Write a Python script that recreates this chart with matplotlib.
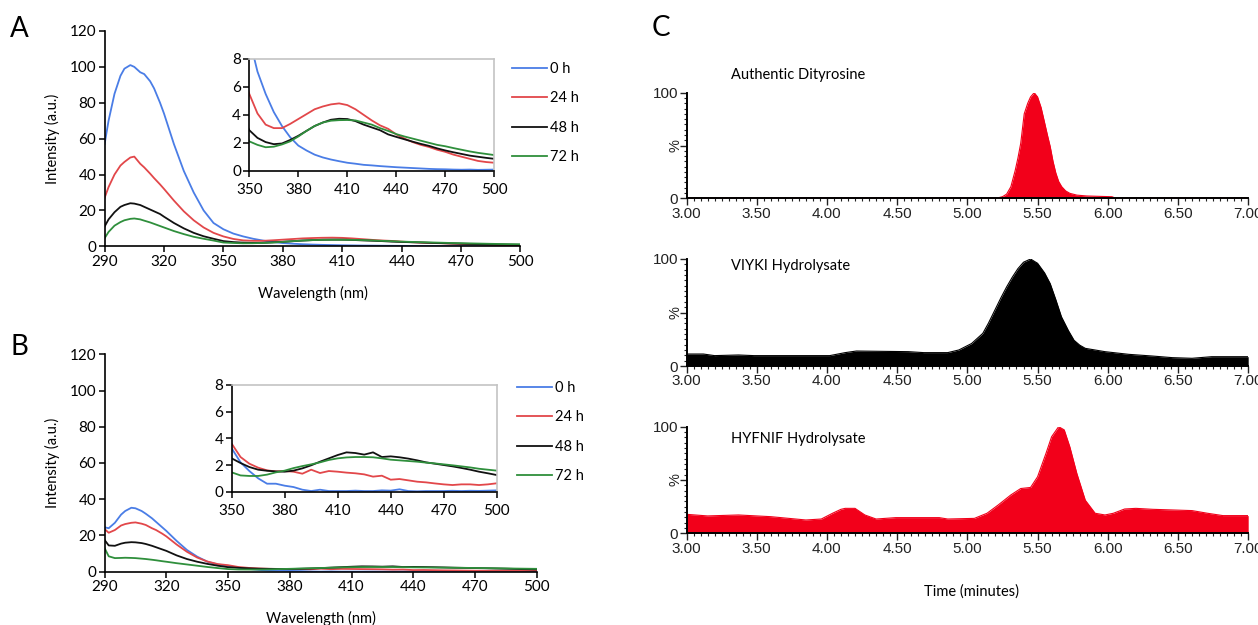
import numpy as np
import matplotlib
matplotlib.use("Agg")
import matplotlib.pyplot as plt
from matplotlib.ticker import MultipleLocator

# ---------------- data ----------------
wavelength = [290, 292, 295, 298, 300, 303, 305, 308, 310, 313, 315, 318, 320, 325, 330, 335, 340, 345,
              350, 355, 360, 365, 370, 375, 380, 385, 390, 395, 400, 405, 410, 415, 420, 425, 430, 435,
              440, 445, 450, 455, 460, 465, 470, 475, 480, 485, 490, 495, 500]
series_labels = ["0 h", "24 h", "48 h", "72 h"]

A_0h = [57, 70, 85, 95, 99, 101, 100, 97, 96, 92, 88, 80, 74, 57, 42, 30, 20, 13,
        9.5, 7.1, 5.5, 4.2, 3.2, 2.4, 1.8, 1.45, 1.15, 0.95, 0.8, 0.68, 0.57, 0.5, 0.42, 0.38, 0.33, 0.29,
        0.25, 0.22, 0.19, 0.16, 0.13, 0.11, 0.1, 0.08, 0.07, 0.08, 0.06, 0.07, 0.08]
A_24h = [27, 33, 40, 45, 47, 49.5, 50, 46, 44, 40.5, 38, 34.5, 32, 25.5, 19.5, 14.5, 10.5, 7.5,
         5.5, 4.1, 3.3, 3.05, 3.05, 3.35, 3.7, 4.05, 4.4, 4.6, 4.75, 4.82, 4.7, 4.4, 4.0, 3.6, 3.25, 3.0,
         2.6, 2.3, 2.05, 1.85, 1.7, 1.5, 1.35, 1.15, 1.0, 0.85, 0.7, 0.62, 0.57]
A_48h = [11, 15, 19, 22, 23, 24, 23.8, 23, 22, 20.5, 19.5, 18, 16.5, 13, 10, 7.5, 5.6, 4.2,
         2.9, 2.35, 2.05, 1.9, 1.95, 2.2, 2.5, 2.85, 3.2, 3.45, 3.65, 3.72, 3.7, 3.55, 3.3, 3.1, 2.9, 2.6,
         2.42, 2.25, 2.08, 1.92, 1.78, 1.6, 1.45, 1.32, 1.2, 1.08, 1.0, 0.92, 0.85]
A_72h = [4.5, 8, 11.5, 13.5, 14.5, 15.3, 15.5, 15, 14.3, 13.3, 12.5, 11.3, 10.5, 8.5, 6.8, 5.3, 4.2, 3.2,
         2.1, 1.85, 1.68, 1.72, 1.88, 2.1, 2.45, 2.85, 3.2, 3.45, 3.58, 3.62, 3.63, 3.6, 3.45, 3.3, 3.05, 2.85,
         2.62, 2.45, 2.3, 2.15, 2.0, 1.85, 1.75, 1.62, 1.5, 1.38, 1.28, 1.2, 1.12]

B_0h = [24.5, 24, 27, 31.5, 33.5, 35.3, 35, 33.5, 32, 29.5, 27.5, 24.5, 22.5, 17, 12, 8.3, 5.5, 4.0,
        3.25, 2.2, 1.55, 1.0, 0.6, 0.6, 0.45, 0.35, 0.15, 0.05, 0.15, 0.05, 0.05, 0.05, 0.08, 0.05, 0.05, 0.1,
        0.08, 0.18, 0.05, 0.03, 0.05, 0.05, 0.05, 0.07, 0.05, 0.07, 0.06, 0.08, 0.1]
B_24h = [23.5, 21.5, 23, 25.5, 26.3, 27, 27.2, 26.5, 25.8, 24, 23, 21, 19.5, 15, 11, 7.8, 5.6, 4.2,
         3.6, 2.6, 2.1, 1.8, 1.6, 1.52, 1.55, 1.5, 1.35, 1.65, 1.4, 1.55, 1.5, 1.43, 1.38, 1.3, 1.13, 1.2,
         0.9, 0.95, 0.85, 0.75, 0.7, 0.62, 0.55, 0.5, 0.55, 0.55, 0.5, 0.55, 0.63]
B_48h = [17.5, 14.5, 14.3, 15.5, 16, 16.3, 16.2, 15.8, 15.3, 14.3, 13.5, 12.3, 11.5, 9, 7, 5.5, 4.3, 3.3,
         2.5, 2.15, 1.85, 1.65, 1.57, 1.52, 1.5, 1.58, 1.75, 1.98, 2.25, 2.5, 2.75, 2.95, 2.9, 2.78, 2.95, 2.6,
         2.65, 2.58, 2.48, 2.35, 2.2, 2.1, 2.0, 1.9, 1.78, 1.65, 1.5, 1.38, 1.25]
B_72h = [13, 8.5, 7.5, 7.6, 7.7, 7.6, 7.5, 7.2, 7.0, 6.6, 6.3, 5.8, 5.5, 4.7, 4.0, 3.3, 2.6, 2.0,
         1.45, 1.22, 1.18, 1.18, 1.28, 1.45, 1.58, 1.77, 1.92, 2.05, 2.2, 2.38, 2.5, 2.57, 2.6, 2.6, 2.58, 2.5,
         2.4, 2.35, 2.3, 2.25, 2.18, 2.12, 2.05, 1.98, 1.9, 1.82, 1.72, 1.65, 1.58]

main_xticks = [290, 320, 350, 380, 410, 440, 470, 500]
main_yticks = [0, 20, 40, 60, 80, 100, 120]
inset_xticks = [350, 380, 410, 440, 470, 500]
inset_yticks = [0, 2, 4, 6, 8]

# Panel C chromatograms (time in minutes, relative abundance %)
c1_title = "Authentic Dityrosine"
c1_time = [3.00, 5.22, 5.25, 5.28, 5.31, 5.34, 5.36, 5.38, 5.405, 5.43, 5.45, 5.476, 5.50, 5.525, 5.546,
           5.57, 5.59, 5.61, 5.63, 5.65, 5.672, 5.70, 5.73, 5.78, 5.85, 5.95, 6.03, 6.05, 7.00]
c1_val = [0.4, 0.5, 1.5, 4, 11, 26, 38, 52, 80, 90, 96, 100, 96, 86, 74,
          60, 49, 35, 24, 16, 11, 7, 4.7, 3, 2.2, 1.8, 1.5, 0.4, 0.4]

c2_title = "VIYKI Hydrolysate"
c2_time = [3.00, 3.12, 3.20, 3.37, 3.48, 4.02, 4.13, 4.21, 4.58, 4.69, 4.86, 4.94, 5.03, 5.11, 5.15, 5.195,
           5.24, 5.28, 5.32, 5.36, 5.40, 5.45, 5.50, 5.55, 5.59, 5.63, 5.67, 5.72, 5.76, 5.80, 5.84, 5.98,
           6.15, 6.32, 6.46, 6.60, 6.74, 7.00]
c2_val = [11.2, 11.2, 9.7, 10.3, 9.7, 9.7, 12.5, 14, 13.4, 12.5, 12.5, 15, 21, 30.5, 40, 52,
          64, 74, 83, 91, 97, 100, 96, 87, 77, 62, 46, 33, 24, 19.5, 16.5, 13.4,
          10.9, 9.3, 7.8, 7.2, 8.7, 8.7]

c3_title = "HYFNIF Hydrolysate"
c3_time = [3.00, 3.15, 3.37, 3.60, 3.85, 3.96, 4.04, 4.10, 4.13, 4.20, 4.27, 4.35, 4.49, 4.80, 4.86, 5.05,
           5.14, 5.22, 5.31, 5.38, 5.45, 5.50, 5.56, 5.60, 5.65, 5.69, 5.73, 5.78, 5.84, 5.91, 5.98, 6.04,
           6.12, 6.20, 6.32, 6.60, 6.71, 6.82, 7.00]
c3_val = [17.8, 16.3, 17.2, 15.6, 12.5, 13.4, 18.8, 22.5, 23.4, 23.4, 17.2, 13.4, 14.7, 14.7, 13.4, 14,
          18.8, 26.6, 36, 42, 43, 53, 75, 90.6, 100, 97, 81, 56, 31, 18.8, 17.2, 18.8,
          22.8, 23.4, 22.5, 21.3, 18.8, 16.6, 16.6]

c_xticks = [3.00, 3.50, 4.00, 4.50, 5.00, 5.50, 6.00, 6.50, 7.00]

# ---------------- style ----------------
W, H = 1258, 625
colors = ["#4a7de6", "#e2474a", "#111111", "#2f8f3c"]
red_fill = "#f2001a"
FONT = ["Lato", "DejaVu Sans"]
ARIAL = ["Liberation Sans", "DejaVu Sans"]
plt.rcParams["font.family"] = FONT
plt.rcParams["axes.linewidth"] = 1.2

fig = plt.figure(figsize=(W / 100, H / 100), dpi=100)


def px_axes(left, top, right, bottom):
    return fig.add_axes([left / W, 1 - bottom / H, (right - left) / W, (bottom - top) / H])


def spectrum_panel(main_box, inset_box, data, legend_top, legend_left, xlabel_y_px):
    ax = px_axes(*main_box)
    lines = []
    for vals, c, lab in zip(data, colors, series_labels):
        ln, = ax.plot(wavelength, vals, color=c, lw=1.3, label=lab)
        lines.append(ln)
    ax.set_xlim(290, 500)
    ax.set_ylim(0, 120)
    ax.spines["top"].set_visible(False)
    ax.spines["right"].set_visible(False)
    ax.set_xticks(main_xticks)
    ax.set_yticks(main_yticks)
    ax.tick_params(direction="out", length=4, width=1.1, labelsize=11, pad=2, colors="black")
    ax.set_ylabel("Intensity (a.u.)", fontsize=10.5)
    ax.set_xlabel("Wavelength (nm)", fontsize=10.5)
    left, top, right, bottom = main_box
    ax.yaxis.set_label_coords((52 - left) / (right - left), 0.5)
    ax.xaxis.set_label_coords(0.5, (bottom - xlabel_y_px) / (bottom - top))
    ax.xaxis.label.set_va("center")
    ax.yaxis.label.set_va("center")

    axi = px_axes(*inset_box)
    for vals, c in zip(data, colors):
        axi.plot(wavelength, vals, color=c, lw=1.3)
    axi.set_xlim(350, 500)
    axi.set_ylim(0, 8)
    axi.spines["top"].set_color("#c4c4c4")
    axi.spines["right"].set_color("#c4c4c4")
    axi.set_xticks(inset_xticks)
    axi.set_yticks(inset_yticks)
    axi.tick_params(direction="out", length=4, width=1.1, labelsize=11, pad=2)
    axi.tick_params(axis="x", pad=5)

    fig.legend(handles=lines, loc="upper left",
               bbox_to_anchor=(legend_left / W, 1 - legend_top / H),
               frameon=False, fontsize=10.5, handlelength=2.4, handletextpad=0.2,
               labelspacing=1.05, borderpad=0, borderaxespad=0)
    return ax


spectrum_panel((104.6, 31.0, 520.4, 246.3), (249.3, 59.0, 494.3, 170.7),
               [A_0h, A_24h, A_48h, A_72h], 62, 512, 293)
spectrum_panel((104.6, 354.3, 536.8, 571.7), (231.7, 385.0, 496.7, 491.7),
               [B_0h, B_24h, B_48h, B_72h], 381, 517, 618)

fig.text(19 / W, 1 - 29 / H, "A", fontsize=20, ha="center", va="center")
fig.text(19 / W, 1 - 347 / H, "B", fontsize=20, ha="center", va="center")
fig.text(661 / W, 1 - 28 / H, "C", fontsize=20, ha="center", va="center")

# ---------------- panel C ----------------
c_left, c_right = 686.5, 1248.2
c_boxes = [(92.7, 198.3, 75.0), (259.0, 366.0, 265.7), (426.7, 533.3, 439.0)]
c_data = [(c1_time, c1_val, red_fill, c1_title),
          (c2_time, c2_val, "black", c2_title),
          (c3_time, c3_val, red_fill, c3_title)]

for (top, bottom, title_y), (t, v, col, title) in zip(c_boxes, c_data):
    ax = px_axes(c_left, top, c_right, bottom)
    ax.fill_between(t, 0, v, color=col, lw=0)
    ax.plot(t, v, color=col, lw=0.8)
    ax.set_xlim(3.0, 7.0)
    ax.set_ylim(0, 100)
    ax.spines["top"].set_visible(False)
    ax.spines["right"].set_visible(False)
    ax.spines["left"].set_linewidth(1.4)
    ax.spines["bottom"].set_linewidth(1.4)
    ax.set_xticks(c_xticks)
    ax.set_xticklabels([f"{x:.2f}" for x in c_xticks], family=ARIAL)
    ax.xaxis.set_minor_locator(MultipleLocator(0.05))
    ax.set_yticks([0, 50, 100])
    ax.set_yticklabels(["0", "", "100"], family=ARIAL)
    ax.yaxis.set_minor_locator(MultipleLocator(5))
    ax.tick_params(which="major", direction="out", length=5, width=1.0, labelsize=11,
                   pad=1, colors="#222222")
    ax.tick_params(which="minor", direction="out", length=2.5, width=0.8, colors="#222222")
    ax.text(-0.02, 0.5, "%", transform=ax.transAxes, rotation=90, ha="center", va="center",
            fontsize=10.5, family=ARIAL, color="#222222")
    ax.text((730.7 - c_left) / (c_right - c_left), (bottom - title_y) / (bottom - top), title,
            transform=ax.transAxes, ha="left", va="center", fontsize=10.5)

fig.text(971 / W, 1 - 592 / H, "Time (minutes)", ha="center", va="center", fontsize=10.5)

fig.savefig("out.png", dpi=100, facecolor="white")
